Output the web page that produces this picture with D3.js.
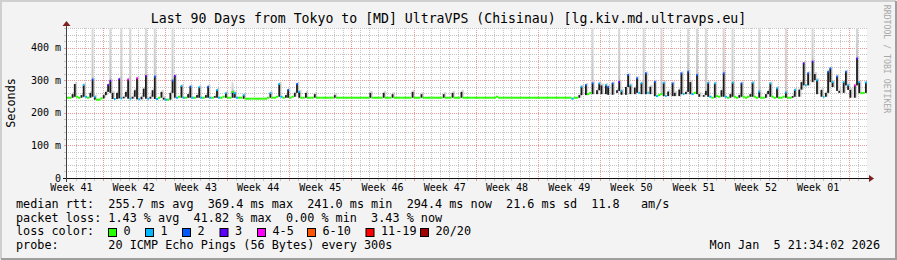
<!DOCTYPE html>
<html><head><meta charset="utf-8">
<script src="https://cdn.jsdelivr.net/npm/d3@7"></script>
<style>
html,body{margin:0;padding:0;background:#f3f3f3;}
svg{display:block;}
text{font-family:"DejaVu Sans Mono",monospace;white-space:pre;}
</style></head><body>
<svg id="c" width="897" height="260"></svg>
<script>
const title = "Last 90 Days from Tokyo to [MD] UltraVPS (Chisinau) [lg.kiv.md.ultravps.eu]";
const yTicks = [0, 100, 200, 300, 400];
const yTickLabels = ["0", "100 m", "200 m", "300 m", "400 m"];
const yMax = 461.5;
const weekLabels = ["Week 41","Week 42","Week 43","Week 44","Week 45","Week 46","Week 47","Week 48","Week 49","Week 50","Week 51","Week 52","Week 01"];
const startDate = "2025-10-09T00:00:00Z";
const days = 90;
const stepHours = 6;
// median rtt (ms), one value every 6 hours
const median = [
247,247,258,289,250,247,255,286, 250,247,262,303,250,241,241,245,
255,265,286,299,262,243,262,304, 245,250,265,303,244,250,270,307,
242,250,275,314,244,250,270,312, 243,247,265,247,241,241,262,300,
314,247,250,283,247,247,258,281, 247,247,255,279,247,247,255,281,
247,247,252,271,247,247,250,261, 247,247,265,261,247,247,247,255,
244,244,244,244,244,244,244,244, 244,244,247,261,247,247,250,289,
250,247,255,271,247,250,262,289, 265,247,247,262,247,247,247,258,
247,247,247,247,247,247,247,247, 255,247,247,247,247,247,247,247,
247,247,247,247,247,247,247,247, 262,247,247,247,247,247,262,247,
247,247,258,247,247,247,247,247, 247,247,247,265,247,247,247,258,
247,247,247,247,247,247,247,247, 247,258,247,247,247,262,247,247,
247,265,247,247,247,247,247,247, 247,247,247,247,247,247,247,247,
247,250,247,247,247,247,247,247, 247,247,247,247,247,247,247,247,
247,247,247,247,247,247,247,247, 247,247,247,247,247,247,247,247,
247,247,247,244,247,247,255,281, 255,286,258,262,291,258,270,291,
285,258,286,280,256,291,262,270, 296,268,256,280,317,285,258,278,
307,262,292,258,322,262,281,258, 296,252,255,258,293,252,266,252,
291,262,252,272,322,258,265,327, 295,258,262,317,258,250,255,268,
293,250,247,291,252,250,270,322, 250,247,258,293,250,247,255,291,
250,247,250,258,293,250,247,266, 247,247,258,268,291,250,247,276,
247,247,250,263,247,247,252,271, 250,272,295,353,285,322,295,358,
320,301,258,271,250,262,327,337, 295,280,312,268,262,295,327,285,
271,247,285,368,295,261,262,294
];
// [step index, loss class] (class 0 everywhere else)
const lossPoints = [[7,1],[8,1],[11,2],[12,1],[18,3],[19,3],[21,1],[23,3],[24,1],[27,4],[28,1],[31,4],[32,1],[35,3],[36,1],[39,2],[40,1],[44,1],[47,2],[48,3],[49,1],[51,1],[52,1],[55,2],[56,1],[59,1],[60,1],[63,2],[64,1],[67,1],[68,1],[71,1],[75,1],[76,1],[79,1],[91,1],[95,1],[96,1],[99,2],[103,2],[104,1],
[227,1],[231,1],[233,2],[236,2],[239,1],[242,1],[243,2],[245,2],[248,3],[249,1],[252,2],[253,1],[256,2],[257,1],[258,1],[260,2],[261,1],[264,2],[265,1],[268,1],[269,1],[272,2],[276,2],[277,1],[279,2],[281,1],[283,2],[288,1],[289,1],[291,1],[295,2],[296,1],[299,1],[303,2],[308,1],[311,1],[316,1],[319,1],[323,1],[327,1],[331,3],[332,1],[333,2],[335,3],[337,1],[340,1],[342,2],[343,2],[344,1],[346,2],[349,1],[350,2],[351,1],[354,4],[355,3],[356,1],[359,1]];
// [step index, highest ping (ms)] for smoke outliers
const smokeMax = [[11,480],[19,480],[24,480],[28,480],[35,480],[39,480],[47,480],[74,295],
[236,480],[248,480],[259,480],[267,480],[279,480],[283,480],[287,480],[295,480],[299,480],[311,480],[323,480],[335,480],[355,480]];
const lossLabels = ["0","1","2","3","4-5","6-10","11-19","20/20"];
const lossColors = ["#26ff00","#00b8ff","#0059ff","#5e00ff","#ff00ff","#ff5500","#ff0000","#a10000"];
const rttLine = "median rtt:  255.7 ms avg  369.4 ms max  241.0 ms min  294.4 ms now  21.6 ms sd  11.8   am/s";
const lossLine = "packet loss: 1.43 % avg  41.82 % max  0.00 % min  3.43 % now";
const probeLine = "probe:       20 ICMP Echo Pings (56 Bytes) every 300s";
const dateText = "Mon Jan  5 21:34:02 2026";
const sideText = "RRDTOOL / TOBI OETIKER";

const svg = d3.select("#c");
const W = 897, H = 260;
const PL = 67, PR = 867, PT = 28, PB = 178;
const start = new Date(startDate);
const end = d3.utcDay.offset(start, days);
const x = d3.scaleUtc().domain([start, end]).range([PL, PR]);
const y = d3.scaleLinear().domain([0, yMax]).range([PB, PT]);
const tAt = i => new Date(start.getTime() + (i + 0.5) * stepHours * 3600e3);
const loss = median.map(() => 0);
lossPoints.forEach(([i, c]) => loss[i] = c);

const defs = svg.append("defs");
const gridC = "#c4c4c4", mgridC = "#ee9a9a";
function dotPattern(id, w, h, color) {
  const p = defs.append("pattern").attr("id", id).attr("patternUnits", "userSpaceOnUse")
    .attr("width", w).attr("height", h);
  p.append("rect").attr("width", 1).attr("height", 1).attr("fill", color);
}
dotPattern("vmin", 1, 2, gridC);
dotPattern("vmaj", 1, 2, mgridC);
dotPattern("hmin", 2, 1, gridC);
dotPattern("hmaj", 2, 1, mgridC);

// background & frame
svg.append("rect").attr("width", W).attr("height", H).attr("fill", "#f3f3f3");
svg.append("path").attr("d", `M1,${H-1}V1H${W-1}`).attr("stroke", "#cfcfcf").attr("stroke-width", 2).attr("fill", "none");
svg.append("path").attr("d", `M1,${H-1}H${W-1}V1`).attr("stroke", "#9e9e9e").attr("stroke-width", 2).attr("fill", "none");
svg.append("rect").attr("x", PL).attr("y", PT).attr("width", PR - PL).attr("height", PB - PT).attr("fill", "#fff");

const g = svg.append("g").attr("shape-rendering", "crispEdges");
// vertical grid
const dayTicks = d3.utcDay.range(start, end);
const isWeek = d => d.getUTCDay() === 1;
dayTicks.forEach(d => {
  if (+d === +start) return;
  const xx = Math.round(x(d));
  const maj = isWeek(d);
  g.append("rect").attr("x", xx).attr("y", PT).attr("width", 1).attr("height", PB - PT)
    .attr("fill", maj ? "url(#vmaj)" : "url(#vmin)");
  g.append("rect").attr("x", xx).attr("y", PB).attr("width", 1).attr("height", 3)
    .attr("fill", maj ? mgridC : gridC);
});
// horizontal grid
d3.range(20, yMax, 20).forEach(v => {
  const yy = Math.round(y(v));
  const maj = v % 100 === 0;
  g.append("rect").attr("x", PL).attr("y", yy).attr("width", PR - PL).attr("height", 1)
    .attr("fill", maj ? "url(#hmaj)" : "url(#hmin)");
  g.append("rect").attr("x", PL - 3).attr("y", yy).attr("width", 3).attr("height", 1)
    .attr("fill", maj ? mgridC : gridC);
});

// data
svg.append("clipPath").attr("id", "pc").append("rect")
  .attr("x", PL).attr("y", PT).attr("width", PR - PL).attr("height", PB - PT);
const dg = svg.append("g").attr("clip-path", "url(#pc)");
const grad = defs.append("linearGradient").attr("id", "sg")
  .attr("x1", 0).attr("x2", 0).attr("y1", 0).attr("y2", 1);
grad.append("stop").attr("offset", "0%").attr("stop-color", "#dedede");
grad.append("stop").attr("offset", "100%").attr("stop-color", "#c4c4c4");
smokeMax.forEach(([i, v]) => {
  const x0 = x(tAt(i)), top = y(v), bot = y(median[i]);
  dg.append("rect").attr("x", x0 - 1).attr("width", 2).attr("y", top).attr("height", Math.max(0, bot - top))
    .attr("fill", "url(#sg)");
});
const nb = i => [median[Math.max(0, i - 1)], median[i], median[Math.min(median.length - 1, i + 1)]];
// smoke halo to the right of raised values
median.forEach((v, i) => {
  const lo = Math.min(...nb(i));
  if (v - lo > 4) {
    const x0 = x(tAt(i));
    dg.append("rect").attr("x", x0).attr("width", 2.4).attr("y", y(v) - 2).attr("height", y(lo) - y(v) + 2)
      .attr("fill", "#b4b4b4").attr("opacity", 0.5);
  }
});
// dark smoke columns under raised values
median.forEach((v, i) => {
  const lo = Math.min(...nb(i));
  if (v - lo > 4) {
    const x0 = x(tAt(i));
    dg.append("rect").attr("x", x0 - 0.9).attr("width", 1.8).attr("y", y(v)).attr("height", y(lo) - y(v))
      .attr("fill", "#1c1c1c");
  }
});
// median colored by loss
median.forEach((v, i) => {
  const xc = x(tAt(i));
  const [p, , n] = nb(i);
  const flat = Math.abs(p - v) <= 4 || Math.abs(n - v) <= 4;
  const hw = flat ? 1.15 : 0.8;
  if (flat || loss[i] > 0) {
    dg.append("line").attr("x1", xc - hw).attr("x2", xc + hw)
      .attr("y1", y(v)).attr("y2", y(v))
      .attr("stroke", lossColors[loss[i]]).attr("stroke-width", 2);
  }
});

// axes
svg.append("rect").attr("x", PL - 4).attr("y", PB).attr("width", PR + 3 - (PL - 4)).attr("height", 1).attr("fill", "#101010");
svg.append("rect").attr("x", PL - 1).attr("y", PT - 4).attr("width", 1).attr("height", PB + 4 - (PT - 4)).attr("fill", "#404040");
svg.append("path").attr("d", `M${PR + 2},${PB - 3}L${PR + 7},${PB + 0.5}L${PR + 2},${PB + 4}Z`).attr("fill", "#7f1f1f");
svg.append("path").attr("d", `M${PL - 4.5},${PT - 2}L${PL - 0.5},${PT - 7}L${PL + 3.5},${PT - 2}Z`).attr("fill", "#7f1f1f");

// y labels
yTicks.forEach((v, k) => {
  svg.append("text").attr("x", 61).attr("y", y(v) + 3.5).attr("text-anchor", "end")
    .attr("font-size", 10).text(yTickLabels[k]);
});
// x labels (centered on each week)
weekLabels.forEach((lab, k) => {
  const mid = d3.utcHour.offset(d3.utcDay.offset(d3.utcMonday.floor(start), 7 * k), 84);
  svg.append("text").attr("x", x(mid)).attr("y", 191).attr("text-anchor", "middle")
    .attr("font-size", 10).text(lab);
});

// title, y title, side text
svg.append("text").attr("x", 448.5).attr("y", 23).attr("text-anchor", "middle").attr("font-size", 13.2).text(title);
svg.append("text").attr("transform", "translate(15,103) rotate(-90)").attr("text-anchor", "middle")
  .attr("font-size", 11.8).text("Seconds");
svg.append("text").attr("transform", "translate(884,59) rotate(90)").attr("text-anchor", "middle")
  .attr("font-size", 8.2).attr("fill", "#a8a8a8").text(sideText);

// legend
const LX = 16, fs = 11.8;
svg.append("text").attr("x", LX).attr("y", 208).attr("font-size", fs).text(rttLine);
svg.append("text").attr("x", LX).attr("y", 221.5).attr("font-size", fs).text(lossLine);
svg.append("text").attr("x", LX).attr("y", 235).attr("font-size", fs).text("loss color:");
svg.append("text").attr("x", LX).attr("y", 249).attr("font-size", fs).text(probeLine);
svg.append("text").attr("x", 880).attr("y", 249).attr("text-anchor", "end").attr("font-size", fs).text(dateText);
const boxX = [108.5, 145.5, 182.5, 220, 257.5, 307.5, 366, 420.5];
lossLabels.forEach((lab, k) => {
  svg.append("rect").attr("x", boxX[k]).attr("y", 228.5).attr("width", 8).attr("height", 8)
    .attr("fill", lossColors[k]).attr("stroke", "#000").attr("stroke-width", 1);
  svg.append("text").attr("x", boxX[k] + 15).attr("y", 235).attr("font-size", fs).text(lab);
});
</script>
</body></html>
